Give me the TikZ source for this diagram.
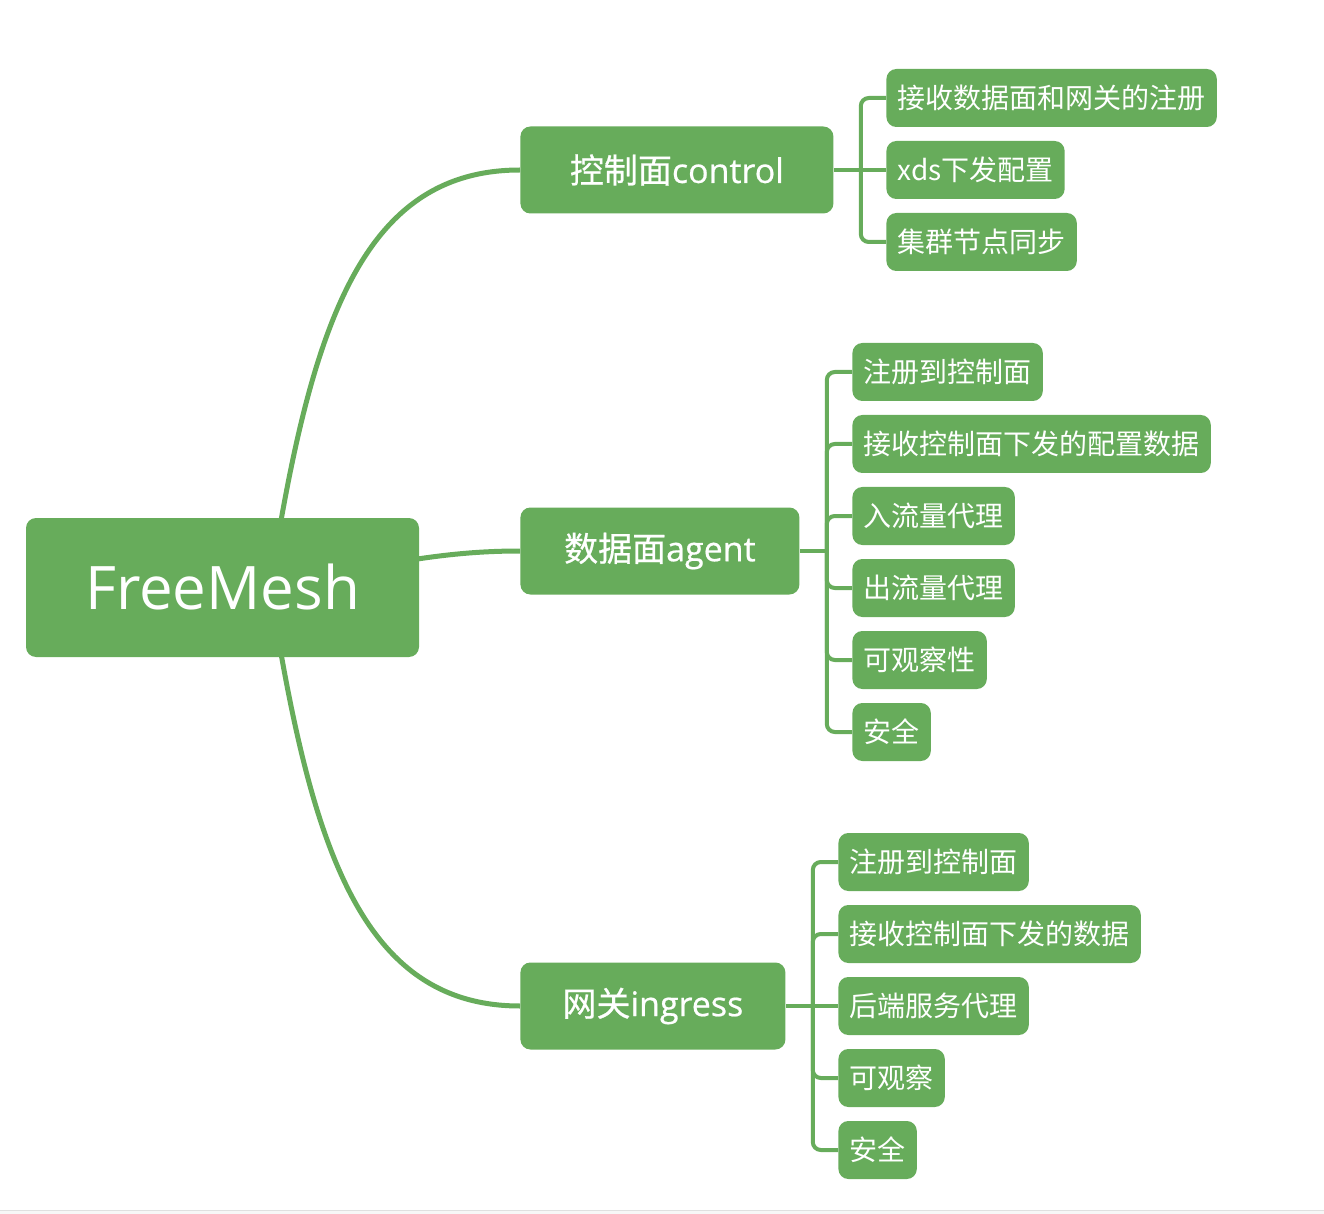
\documentclass[tikz,border=0pt]{standalone}
\usepackage{fontspec}
\setmainfont{Open Sans}
\newfontfamily\cjk{Noto Sans CJK SC}
\newfontfamily\topicfont[FakeBold=0.6]{Open Sans}
\newfontfamily\topiccjk[FakeBold=0.6]{Noto Sans CJK SC}
\usetikzlibrary{backgrounds}
\definecolor{mindgreen}{HTML}{67AC5B}

\begin{document}
\begin{tikzpicture}[x=0.5pt,y=-0.5pt,
  box/.style={rectangle, rounded corners=5pt, fill=mindgreen, text=white, inner ysep=0pt},
  rootbox/.style={box, minimum width=196.5pt, minimum height=69.5pt, font=\fontsize{30}{35}\selectfont},
  topic/.style={box, anchor=west, minimum height=43.5pt, font=\topicfont\fontsize{17}{20}\selectfont},
  leaf/.style={box, anchor=west, minimum height=29pt, inner xsep=5.6pt, font=\cjk\fontsize{14}{17}\selectfont},
  curve/.style={draw=mindgreen, line width=2.5pt},
  branch/.style={draw=mindgreen, line width=2pt, rounded corners=4pt}]
\useasboundingbox (0,0) rectangle (1324,1214);
\fill [black!3] (0,1210) rectangle (1324,1214);
\draw [black!12, line width=0.5pt] (0,1210) -- (1324,1210);

% root and main topics
\node[rootbox] (root) at (222.5,587.5) {FreeMesh};
\node[topic, minimum width=156.5pt] (ctl) at (520,170) {{\topiccjk 控制面}control};
\node[topic, minimum width=139.5pt] (agt) at (520,551) {{\topiccjk 数据面}agent};
\node[topic, minimum width=132.5pt] (ing) at (520,1006) {{\topiccjk 网关}ingress};

% control
\node[leaf] (c1) at (886,98) {接收数据面和网关的注册};
\node[leaf] (c2) at (886,170) {xds下发配置};
\node[leaf] (c3) at (886,242) {集群节点同步};

% agent
\node[leaf] (a1) at (852,372) {注册到控制面};
\node[leaf] (a2) at (852,444) {接收控制面下发的配置数据};
\node[leaf] (a3) at (852,516) {入流量代理};
\node[leaf] (a4) at (852,588) {出流量代理};
\node[leaf] (a5) at (852,660) {可观察性};
\node[leaf] (a6) at (852,732) {安全};

% ingress
\node[leaf] (i1) at (838,862) {注册到控制面};
\node[leaf] (i2) at (838,934) {接收控制面下发的数据};
\node[leaf] (i3) at (838,1006) {后端服务代理};
\node[leaf] (i4) at (838,1078) {可观察};
\node[leaf] (i5) at (838,1150) {安全};

\coordinate (hub) at (270,587);
\begin{scope}[on background layer]
\draw[curve] (hub) .. controls (310,330) and (360,170) .. (ctl.west);
\draw[curve] (hub) .. controls (380,565) and (440,551) .. (agt.west);
\draw[curve] (hub) .. controls (310,844) and (360,1006) .. (ing.west);
\end{scope}

\coordinate (cj) at ([xshift=13.5pt]ctl.east);
\coordinate (aj) at ([xshift=13.5pt]agt.east);
\coordinate (ij) at ([xshift=13.5pt]ing.east);

\draw[branch] (ctl) -- (c2);
\foreach \n in {c1,c3}
  \draw[branch] (cj) |- (\n.west);

\draw[branch] (agt.east) -- (aj);
\foreach \n in {a1,a2,a3,a4,a5,a6}
  \draw[branch] (aj) |- (\n.west);

\draw[branch] (ing) -- (i3);
\foreach \n in {i1,i2,i4,i5}
  \draw[branch] (ij) |- (\n.west);
\end{tikzpicture}
\end{document}
